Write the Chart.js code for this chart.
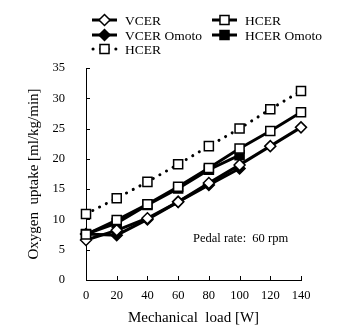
<!DOCTYPE html>
<html>
<head>
<meta charset="utf-8">
<script src="https://cdn.jsdelivr.net/npm/chart.js@4"></script>
<style>
  html, body { margin: 0; padding: 0; background: #fff; }
  #wrap { width: 353px; height: 330px; }
</style>
</head>
<body>
<div id="wrap"><canvas id="vo2"></canvas></div>
<script>
// charge mecanique (W)
let load = [0, 20, 40, 60, 80, 100, 120, 140];
let loadOmoto = [0, 20, 40, 60, 80, 100];

// consommation d'oxygene (ml/kg/min)
let vcer = [6.6, 8.2, 10.2, 12.9, 16.0, 19.0, 22.1, 25.2];
let hcer = [7.5, 9.9, 12.5, 15.4, 18.5, 21.7, 24.6, 27.7];
let vcerOmoto = [7.6, 7.4, 10.0, 12.9, 15.7, 18.4];
let hcerOmoto = [7.6, 9.4, 12.4, 15.1, 18.2, 20.6];
let hcerDot = [10.9, 13.5, 16.2, 19.1, 22.1, 25.0, 28.2, 31.2];

let yTicks = [0, 5, 10, 15, 20, 25, 30, 35];
let xTicks = [0, 20, 40, 60, 80, 100, 120, 140];

const serif = '"Liberation Serif", "Times New Roman", serif';

function pts(xs, ys) {
    return ys.map((v, i) => ({ x: xs[i], y: v }));
}

function serie(label, xs, ys, style, filled, radius, dotted, order) {
    return {
        label: label,
        data: pts(xs, ys),
        borderColor: '#000',
        borderWidth: 3,
        borderDash: dotted ? [0.1, 7.5] : [],
        borderCapStyle: dotted ? 'round' : 'butt',
        pointStyle: style,
        pointRadius: radius,
        pointBorderWidth: 1.5,
        pointBorderColor: '#000',
        pointBackgroundColor: filled ? '#000' : '#fff',
        tension: 0,
        clip: false,
        order: order
    };
}

let datasets = [
    serie('VCER', load, vcer, 'rectRot', false, 5.5, false, 2),
    serie('HCER', load, hcer, 'rect', false, 6.4, false, 1),
    serie('VCER Omoto', loadOmoto, vcerOmoto, 'rectRot', true, 5.5, false, 4),
    serie('HCER Omoto', loadOmoto, hcerOmoto, 'rect', true, 6.4, false, 3),
    serie('HCER', load, hcerDot, 'rect', false, 6.4, true, 5)
];

// position de la legende (2 colonnes)
let legendPos = [[92, 20], [212, 20], [92, 35], [212, 35], [92, 49]];

// legende dessinee a la main + petites graduations vers l'interieur
const extras = {
    id: 'extras',
    afterDraw(chart) {
        const c = chart.ctx;
        const area = chart.chartArea;
        const xs = chart.scales.x, ys = chart.scales.y;
        c.save();
        c.strokeStyle = '#000';
        c.lineWidth = 1;
        c.beginPath();
        yTicks.forEach(t => {
            const y = Math.round(ys.getPixelForValue(t)) + 0.5;
            c.moveTo(area.left, y);
            c.lineTo(area.left + 4, y);
        });
        xTicks.forEach(t => {
            const x = Math.round(xs.getPixelForValue(t)) + 0.5;
            c.moveTo(x, area.bottom);
            c.lineTo(x, area.bottom - 4);
        });
        c.stroke();

        datasets.forEach((ds, i) => {
            const [lx, ly] = legendPos[i];
            c.save();
            c.strokeStyle = '#000';
            c.lineWidth = 3;
            c.lineCap = ds.borderCapStyle;
            c.setLineDash(ds.borderDash);
            c.beginPath();
            c.moveTo(lx + (ds.borderDash.length ? 1 : 0), ly);
            c.lineTo(lx + 25, ly);
            c.stroke();
            c.restore();
            c.fillStyle = ds.pointBackgroundColor;
            c.strokeStyle = '#000';
            c.lineWidth = 1.5;
            Chart.helpers.drawPoint(c, { pointStyle: ds.pointStyle, radius: ds.pointRadius, borderWidth: 1.5 }, lx + 12.5, ly);
            c.fillStyle = '#000';
            c.font = '13.5px ' + serif;
            c.textBaseline = 'middle';
            c.textAlign = 'left';
            c.fillText(ds.label, lx + 33, ly + 1);
        });

        c.font = '12.5px ' + serif;
        c.fillStyle = '#000';
        c.textBaseline = 'middle';
        c.fillText('Pedal rate:  60 rpm', 193, 239);
        c.restore();
    }
};

let ctx = document.getElementById('vo2').getContext('2d');
new Chart(ctx, {
    type: 'line',
    data: { datasets: datasets },
    options: {
        responsive: true,
        maintainAspectRatio: false,
        animation: false,
        layout: { padding: { top: 68, right: 52, left: 0, bottom: 0 } },
        plugins: {
            legend: { display: false },
            tooltip: { enabled: false }
        },
        scales: {
            x: {
                type: 'linear',
                min: 0,
                max: 140,
                afterFit: s => { s.height = 50; },
                afterBuildTicks: s => { s.ticks = xTicks.map(v => ({ value: v })); },
                grid: { display: false, drawTicks: false },
                border: { display: true, color: '#000', width: 1 },
                ticks: { color: '#000', padding: 8, maxRotation: 0, font: { family: serif, size: 12.5 } },
                title: { display: true, text: 'Mechanical  load [W]', color: '#000', padding: { top: 0, bottom: 3 }, font: { family: serif, size: 15 } }
            },
            y: {
                min: 0,
                max: 35,
                afterFit: s => { s.width = 86; },
                afterBuildTicks: s => { s.ticks = yTicks.map(v => ({ value: v })); },
                grid: { display: false, drawTicks: false },
                border: { display: true, color: '#000', width: 1 },
                ticks: { color: '#000', padding: 21, font: { family: serif, size: 12.5 } },
                title: { display: true, text: 'Oxygen  uptake [ml/kg/min]', color: '#000', padding: { top: 25, bottom: 0 }, font: { family: serif, size: 15 } }
            }
        }
    },
    plugins: [extras]
});
</script>
</body>
</html>
